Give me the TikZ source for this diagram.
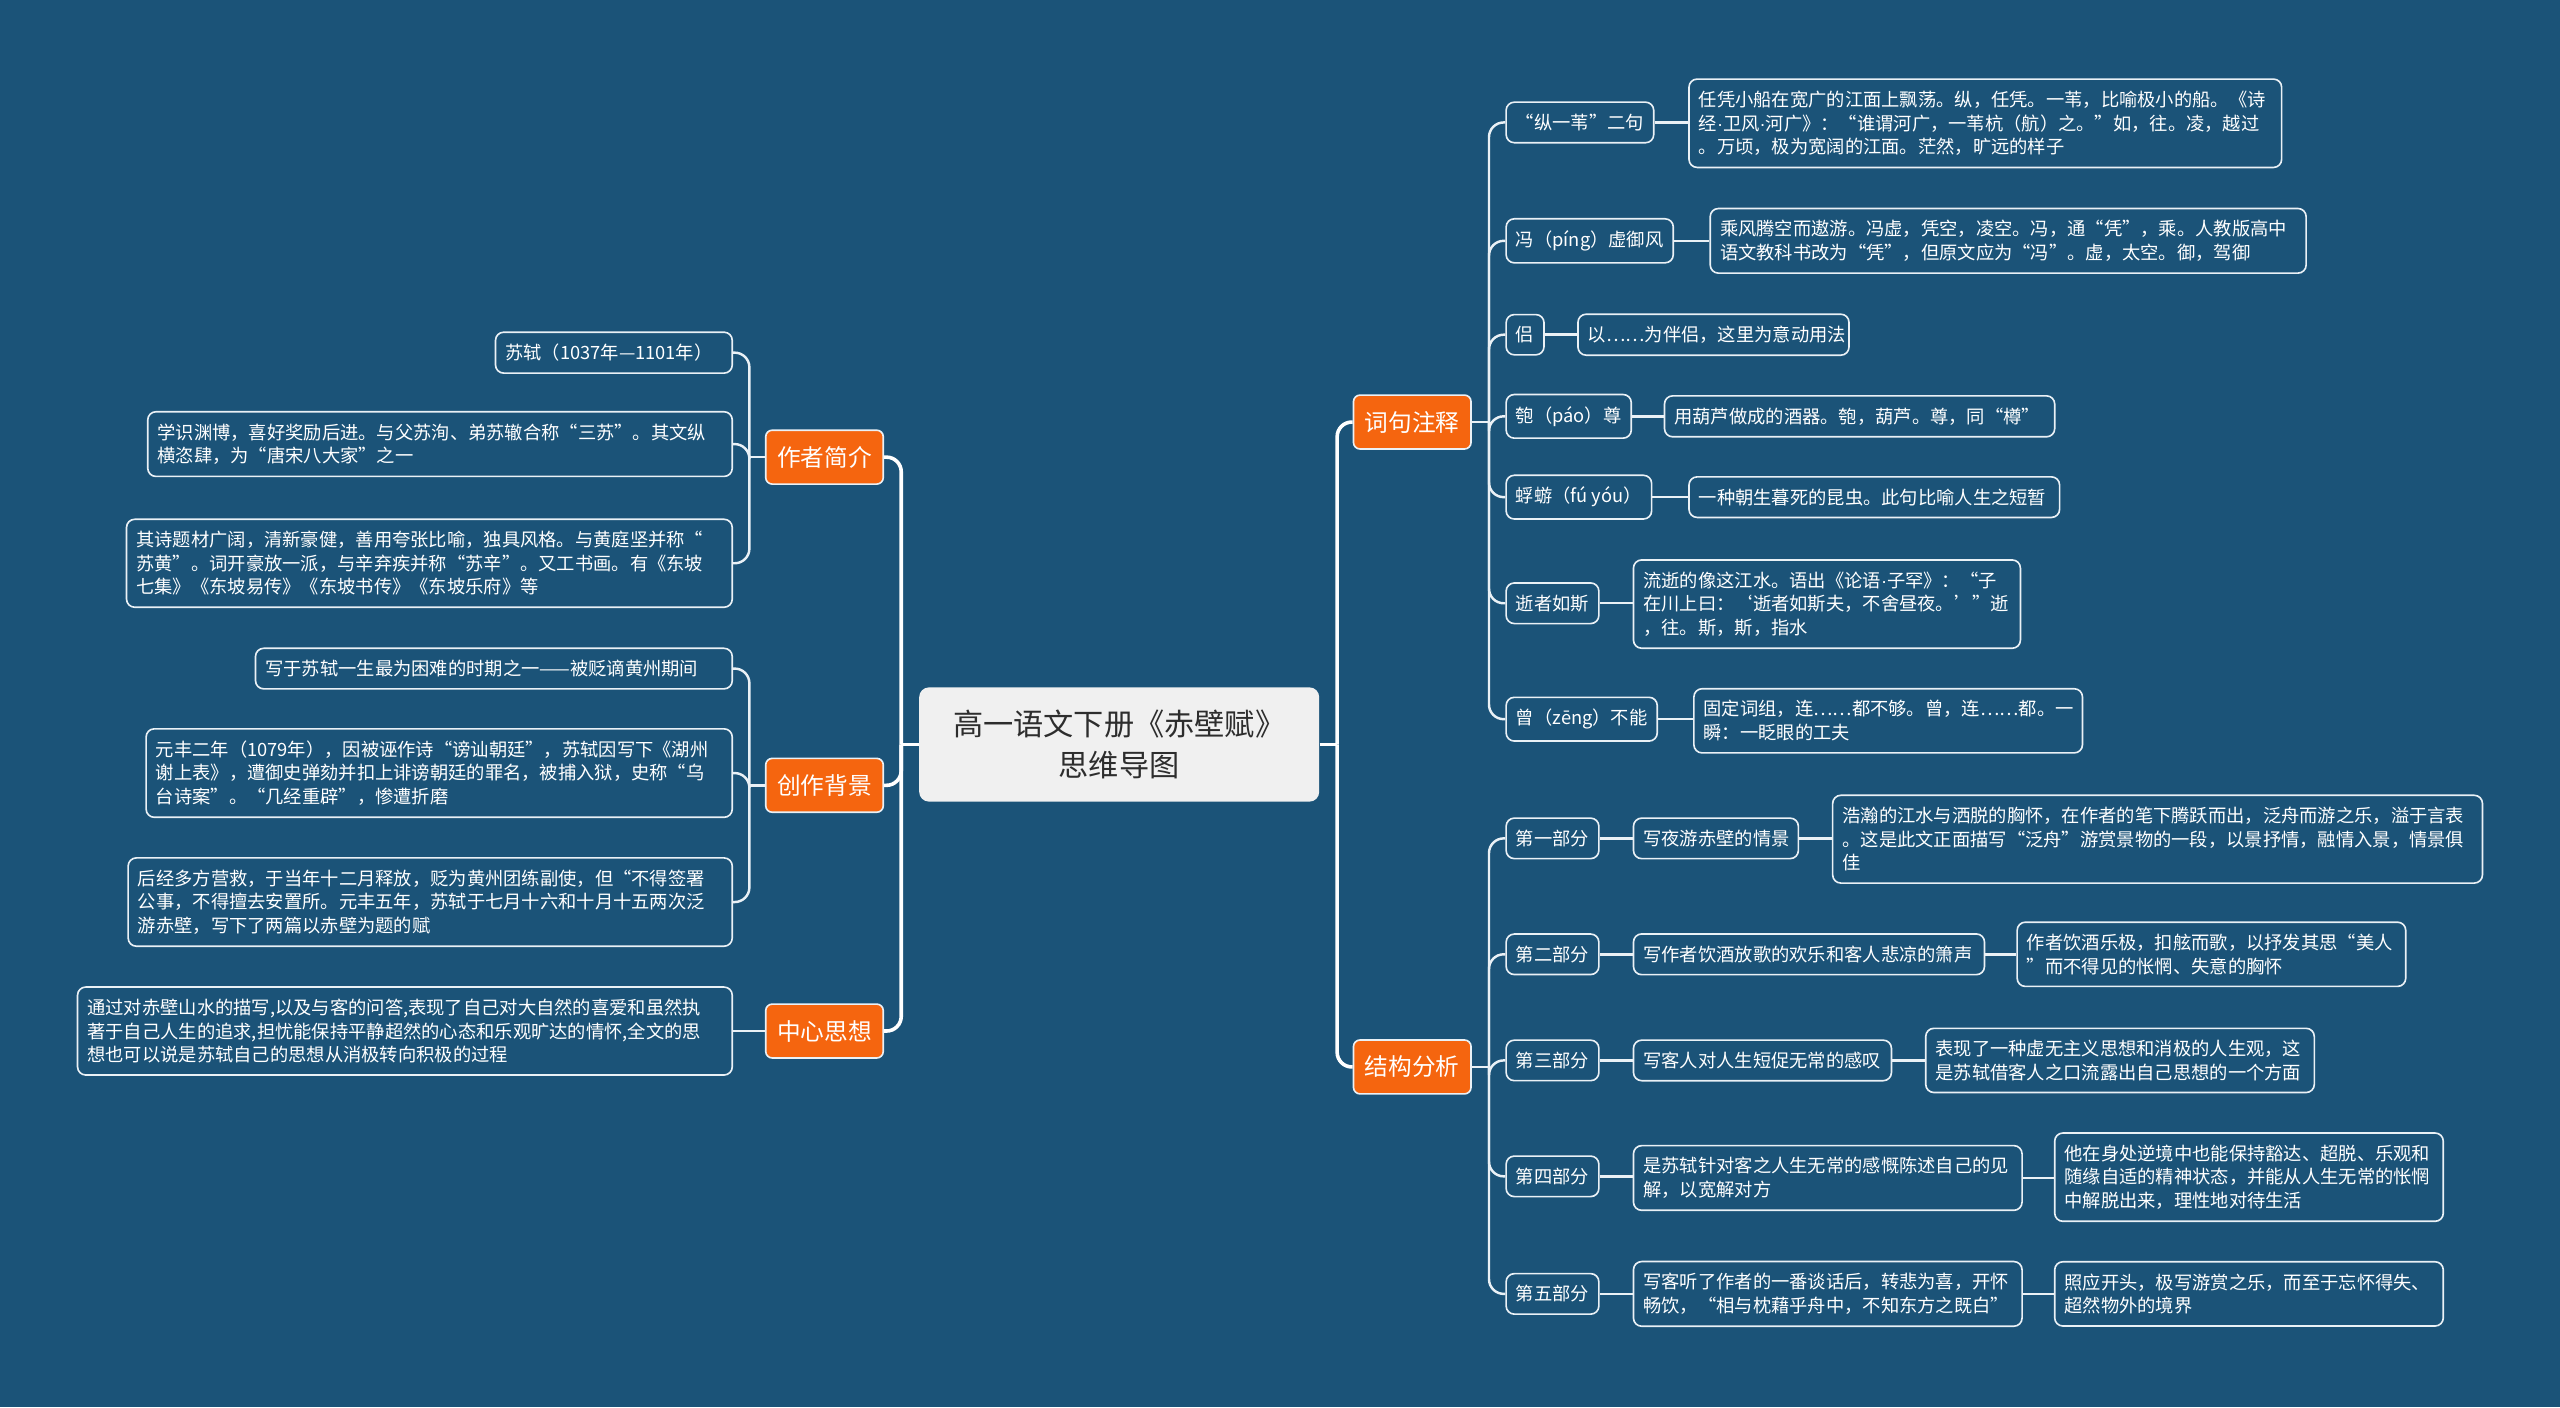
\documentclass[tikz,border=0pt]{standalone}
\usepackage{fontspec}
\setmainfont{Noto Sans CJK SC}
\newfontfamily\latinf{Liberation Sans}
\newcommand{\mdot}{{\latinf ·}}
\definecolor{bg}{RGB}{27,83,120}
\definecolor{org}{RGB}{245,101,15}
\definecolor{edgec}{RGB}{234,241,246}
\definecolor{rootc}{RGB}{240,240,240}
\definecolor{roott}{RGB}{45,45,45}
\begin{document}
\begin{tikzpicture}[x=1pt,y=-1pt,
 leaf/.style={draw=edgec, line width=1pt, rounded corners=5pt, fill=bg, text=white,
   font=\fontsize{11.2}{14.5}\selectfont, inner xsep=6pt, inner ysep=7.2pt, align=left},
 topic/.style={draw=edgec, line width=1pt, rounded corners=4pt, fill=org, text=white,
   font=\fontsize{14.5}{17}\selectfont, minimum width=72pt, minimum height=33pt, inner sep=0pt},
 root/.style={fill=rootc, rounded corners=6pt, text=roott, font=\fontsize{18.5}{25}\selectfont,
   minimum width=245pt, minimum height=70pt, align=center, inner sep=0pt},
 mainln/.style={draw=white, line width=2.2pt, rounded corners=9pt},
 subln/.style={draw=edgec, line width=1.5pt, rounded corners=9pt},
]
\fill[bg] (0,0) rectangle (1568,862);
\useasboundingbox (0,0) rectangle (1568,862);

% root and topics
\node[root] (root) at (685.5,456) {高一语文下册《赤壁赋》\\思维导图};
\node[topic] (zz) at (505,280) {作者简介};
\node[topic] (cz) at (505,481) {创作背景};
\node[topic] (zx) at (505,631.5) {中心思想};
\node[topic] (cj) at (865,258.5) {词句注释};
\node[topic] (jg) at (865,653.5) {结构分析};

\coordinate (lbus) at (552,456);
\coordinate (rbus) at (819,456);
\draw[mainln] (root.west) -- (lbus);
\draw[mainln] (root.east) -- (rbus);
\draw[mainln] (zz.east) -| (lbus);
\draw[mainln] (cz.east) -| (lbus);
\draw[mainln] (zx.east) -| (lbus);
\draw[mainln] (cj.west) -| (rbus);
\draw[mainln] (jg.west) -| (rbus);

% left leaves
\node[leaf, anchor=east, text width=133pt] (a1) at (449,216) {苏轼（1037年—1101年）};
\node[leaf, anchor=east, text width=346pt] (a2) at (449,272) {学识渊博，喜好奖励后进。与父苏洵、弟苏辙合称“三苏”。其文纵\\横恣肆，为“唐宋八大家”之一};
\node[leaf, anchor=east, text width=359pt] (a3) at (449,345) {其诗题材广阔，清新豪健，善用夸张比喻，独具风格。与黄庭坚并称“\\苏黄”。词开豪放一派，与辛弃疾并称“苏辛”。又工书画。有《东坡\\七集》《东坡易传》《东坡书传》《东坡乐府》等};
\node[leaf, anchor=east, text width=280pt] (b1) at (449,409.5) {写于苏轼一生最为困难的时期之一——被贬谪黄州期间};
\node[leaf, anchor=east, text width=347pt] (b2) at (449,473.5) {元丰二年（1079年），因被诬作诗“谤讪朝廷”，苏轼因写下《湖州\\谢上表》，遭御史弹劾并扣上诽谤朝廷的罪名，被捕入狱，史称“乌\\台诗案”。“几经重辟”，惨遭折磨};
\node[leaf, anchor=east, text width=358pt] (b3) at (449,552.5) {后经多方营救，于当年十二月释放，贬为黄州团练副使，但“不得签署\\公事，不得擅去安置所。元丰五年，苏轼于七月十六和十月十五两次泛\\游赤壁，写下了两篇以赤壁为题的赋};
\node[leaf, anchor=east, text width=389pt] (c1) at (449,631.5) {通过对赤壁山水的描写,以及与客的问答,表现了自己对大自然的喜爱和虽然执\\著于自己人生的追求,担忧能保持平静超然的心态和乐观旷达的情怀,全文的思\\想也可以说是苏轼自己的思想从消极转向积极的过程};

\coordinate (zzb) at (459,280);
\coordinate (czb) at (459,481);
\draw[subln] (zz.west) -- (zzb);
\draw[subln] (cz.west) -- (czb);
\foreach \n in {a1,a2,a3} \draw[subln] (zzb) |- (\n.east);
\foreach \n in {b1,b2,b3} \draw[subln] (czb) |- (\n.east);
\draw[subln] (zx.west) -- (c1.east);

% right: 词句注释
\node[leaf, anchor=west] (r1k) at (922,75) {“纵一苇”二句};
\node[leaf, anchor=west] (r2k) at (922,147.5) {冯（píng）虚御风};
\node[leaf, anchor=west] (r3k) at (922,205) {侣};
\node[leaf, anchor=west] (r4k) at (922,255) {匏（páo）尊};
\node[leaf, anchor=west] (r5k) at (922,304.5) {蜉蝣（fú yóu）};
\node[leaf, anchor=west] (r6k) at (922,369.5) {逝者如斯};
\node[leaf, anchor=west] (r7k) at (922,440.5) {曾（zēng）不能};

\node[leaf, anchor=west, text width=351pt] (r1) at (1034,75.5) {任凭小船在宽广的江面上飘荡。纵，任凭。一苇，比喻极小的船。《诗\\经\mdot 卫风\mdot 河广》：“谁谓河广，一苇杭（航）之。”如，往。凌，越过\\。万顷，极为宽阔的江面。茫然，旷远的样子};
\node[leaf, anchor=west, text width=353pt] (r2) at (1047,147.5) {乘风腾空而遨游。冯虚，凭空，凌空。冯，通“凭”，乘。人教版高中\\语文教科书改为“凭”，但原文应为“冯”。虚，太空。御，驾御};
\node[leaf, anchor=west, text width=154pt] (r3) at (966,205) {以……为伴侣，这里为意动用法};
\node[leaf, anchor=west, text width=227pt] (r4) at (1019,255) {用葫芦做成的酒器。匏，葫芦。尊，同“樽”};
\node[leaf, anchor=west, text width=215pt] (r5) at (1034,304.5) {一种朝生暮死的昆虫。此句比喻人生之短暂};
\node[leaf, anchor=west, text width=225pt] (r6) at (1000,370) {流逝的像这江水。语出《论语\mdot 子罕》：“子\\在川上曰：‘逝者如斯夫，不舍昼夜。’”逝\\，往。斯，斯，指水};
\node[leaf, anchor=west, text width=226pt] (r7) at (1037,441.5) {固定词组，连……都不够。曾，连……都。一\\瞬：一眨眼的工夫};

\coordinate (cjb) at (912,258.5);
\draw[subln] (cj.east) -- (cjb);
\foreach \n in {r1,r2,r3,r4,r5,r6,r7} {
  \draw[subln] (cjb) |- (\n k.west);
  \draw[subln] (\n k.east) -- (\n k.east -| \n.west);
}

% right: 结构分析
\node[leaf, anchor=west] (s1k) at (922,513.5) {第一部分};
\node[leaf, anchor=west] (s2k) at (922,584.5) {第二部分};
\node[leaf, anchor=west] (s3k) at (922,649.5) {第三部分};
\node[leaf, anchor=west] (s4k) at (922,720.5) {第四部分};
\node[leaf, anchor=west] (s5k) at (922,792.5) {第五部分};

\node[leaf, anchor=west, text width=89pt] (m1) at (1000,513.5) {写夜游赤壁的情景};
\node[leaf, anchor=west, text width=203pt] (m2) at (1000,584.5) {写作者饮酒放歌的欢乐和客人悲凉的箫声};
\node[leaf, anchor=west, text width=146pt] (m3) at (1000,649.5) {写客人对人生短促无常的感叹};
\node[leaf, anchor=west, text width=226pt] (m4) at (1000,721.5) {是苏轼针对客之人生无常的感慨陈述自己的见\\解，以宽解对方};
\node[leaf, anchor=west, text width=226pt] (m5) at (1000,792.5) {写客听了作者的一番谈话后，转悲为喜，开怀\\畅饮，“相与枕藉乎舟中，不知东方之既白”};

\node[leaf, anchor=west, text width=386pt] (l1) at (1122,514) {浩瀚的江水与洒脱的胸怀，在作者的笔下腾跃而出，泛舟而游之乐，溢于言表\\。这是此文正面描写“泛舟”游赏景物的一段，以景抒情，融情入景，情景俱\\佳};
\node[leaf, anchor=west, text width=226pt] (l2) at (1235,584.5) {作者饮酒乐极，扣舷而歌，以抒发其思“美人\\”而不得见的怅惘、失意的胸怀};
\node[leaf, anchor=west, text width=226pt] (l3) at (1179,649.5) {表现了一种虚无主义思想和消极的人生观，这\\是苏轼借客人之口流露出自己思想的一个方面};
\node[leaf, anchor=west, text width=226pt] (l4) at (1258,721) {他在身处逆境中也能保持豁达、超脱、乐观和\\随缘自适的精神状态，并能从人生无常的怅惘\\中解脱出来，理性地对待生活};
\node[leaf, anchor=west, text width=226pt] (l5) at (1258,792.5) {照应开头，极写游赏之乐，而至于忘怀得失、\\超然物外的境界};

\coordinate (jgb) at (912,653.5);
\draw[subln] (jg.east) -- (jgb);
\foreach \i in {1,2,3,4,5} {
  \draw[subln] (jgb) |- (s\i k.west);
  \draw[subln] (s\i k.east) -- (s\i k.east -| m\i.west);
  \draw[subln] (m\i.east) -- (m\i.east -| l\i.west);
}
\end{tikzpicture}
\end{document}
